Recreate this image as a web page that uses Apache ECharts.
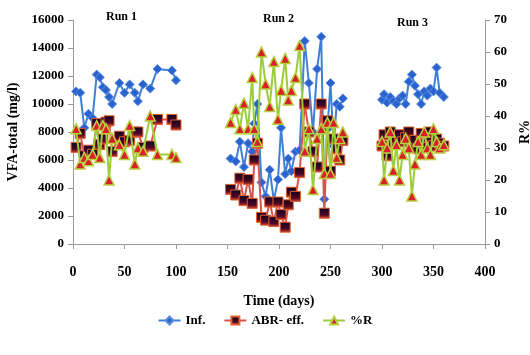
<!DOCTYPE html>
<html><head><meta charset="utf-8">
<script src="https://cdn.jsdelivr.net/npm/echarts@6/dist/echarts.min.js"></script>
<style>html,body{margin:0;padding:0;background:#fff}#c{width:530px;height:355px}</style>
</head><body><div id="c"></div>
<script>
// ---- data ----
const seriesNames = ['Inf.', 'ABR- eff.', '%R'];
const runLabels = ['Run 1', 'Run 2', 'Run 3'];
const xTicks = [0, 50, 100, 150, 200, 250, 300, 350, 400];

const run1Days  = [3, 7, 11, 15, 19, 23, 26, 29, 32, 35, 38, 45, 50, 55, 60, 63, 68, 75, 82, 96, 100];
const run1Inf   = [10900, 10800, 8300, 9300, 9000, 12100, 11900, 11200, 11000, 10500, 10000, 11500, 10800, 11400, 10800, 10200, 11400, 11100, 12500, 12400, 11700];
const run1Eff   = [6900, 7900, 6300, 6700, 6400, 8600, 7100, 7500, 8700, 8800, 6600, 7700, 7300, 7400, 8000, 8000, 6900, 7000, 8900, 8900, 8500];
const run1R     = [36, 25, 27, 26, 28, 37, 27, 37, 36, 20, 33, 31, 28, 37, 25, 30, 29, 40, 28, 28, 27];

const run2Days  = [153, 158, 162, 166, 170, 174, 176, 179, 183, 187, 191, 195, 199, 202, 206, 209, 212, 216, 220, 225, 229, 233, 237, 241, 244, 247, 250, 253, 256, 259, 262];
const run2Inf   = [6100, 5900, 7300, 5500, 7200, 6600, 8600, 10000, 4400, 3400, 5300, 3100, 4600, 8300, 5000, 6100, 5200, 6600, 6700, 14500, 11500, 8000, 12500, 14800, 3200, 8200, 11500, 7000, 10000, 9800, 10400];
const run2Eff   = [3900, 3500, 4700, 3100, 4600, 2900, 6000, 7200, 1900, 1700, 3000, 1600, 3000, 2100, 1200, 2800, 3700, 3400, 5100, 10000, 8000, 6600, 5500, 10000, 2200, 8800, 5200, 7500, 6800, 6000, 7400];
const run2R     = [38, 42, 36, 44, 36, 52, 36, 32, 60, 50, 43, 57, 39, 48, 58, 45, 48, 52, 62, 29, 36, 17, 33, 36, 22, 38, 22, 38, 27, 33, 35];

const run3Days  = [300, 302, 305, 308, 311, 314, 317, 320, 323, 326, 329, 332, 335, 338, 341, 344, 347, 350, 353, 356, 360];
const run3Inf   = [10300, 10700, 10100, 10500, 10200, 10000, 10400, 10600, 10000, 11600, 12100, 11300, 10700, 10000, 10900, 10600, 11100, 10900, 12600, 10800, 10500];
const run3Eff   = [7000, 7800, 6300, 8000, 7200, 7500, 7800, 7300, 7600, 8000, 6900, 7400, 6800, 7900, 7100, 7600, 8000, 7000, 7500, 7200, 7000];
const run3R     = [32, 20, 30, 35, 23, 31, 20, 28, 33, 30, 15, 25, 32, 28, 35, 30, 28, 36, 32, 30, 31];

const runs = [
  {days: run1Days, inf: run1Inf, eff: run1Eff, r: run1R},
  {days: run2Days, inf: run2Inf, eff: run2Eff, r: run2R},
  {days: run3Days, inf: run3Inf, eff: run3Eff, r: run3R}
];

// ---- chart ----
const serif = 'Liberation Serif';
const zip = (a, b) => a.map((v, i) => [v, b[i]]);
const effFill = {type: 'linear', x: 0, y: 0, x2: 0, y2: 1,
  colorStops: [{offset: 0, color: '#10001f'}, {offset: 0.65, color: '#4a0828'}, {offset: 1, color: '#e0402a'}]};

const series = [];
runs.forEach(run => {
  series.push({
    name: seriesNames[0], type: 'line', yAxisIndex: 0, data: zip(run.days, run.inf),
    symbol: 'diamond', symbolSize: 9, z: 2,
    lineStyle: {color: '#3f7fd6', width: 2},
    itemStyle: {color: '#2a62d0', borderColor: '#5a8fe0', borderWidth: 1}
  });
  series.push({
    name: seriesNames[1], type: 'line', yAxisIndex: 0, data: zip(run.days, run.eff),
    symbol: 'rect', symbolSize: 10, z: 3,
    lineStyle: {color: '#d9534a', width: 2},
    itemStyle: {color: effFill, borderColor: '#e0602a', borderWidth: 1}
  });
  series.push({
    name: seriesNames[2], type: 'line', yAxisIndex: 1, data: zip(run.days, run.r),
    symbol: 'triangle', symbolSize: 10, z: 4,
    lineStyle: {color: '#9acd3a', width: 2},
    itemStyle: {color: '#d8202a', borderColor: '#b8d040', borderWidth: 1.5}
  });
});

const axisLbl = {fontFamily: serif, fontWeight: 'bold', fontSize: 13, color: '#000'};
const axisLine = {show: true, lineStyle: {color: '#9a9a9a'}};
const plain = v => String(v);

const chart = echarts.init(document.getElementById('c'), null, {renderer: 'canvas'});
chart.setOption({
  backgroundColor: '#fff',
  animation: false,
  grid: {left: 73, right: 45, top: 20, bottom: 111, containLabel: false, outerBoundsMode: 'none'},
  legend: {
    data: seriesNames, top: 309, left: 'center', itemGap: 18, itemWidth: 22, itemHeight: 10,
    textStyle: {fontFamily: serif, fontWeight: 'bold', fontSize: 13, color: '#000'}
  },
  xAxis: {
    type: 'value', min: xTicks[0], max: xTicks[xTicks.length - 1], interval: 50,
    name: 'Time (days)', nameLocation: 'middle', nameGap: 50,
    nameTextStyle: {fontFamily: serif, fontWeight: 'bold', fontSize: 14, color: '#000'},
    axisLine: axisLine, axisTick: {show: true, lineStyle: {color: '#9a9a9a'}},
    axisLabel: Object.assign({margin: 21, formatter: plain}, axisLbl, {fontSize: 14}), splitLine: {show: false}
  },
  yAxis: [{
    type: 'value', min: 0, max: 16000, interval: 2000,
    name: 'VFA-total (mg/l)', nameLocation: 'middle', nameGap: 49, nameRotate: 90,
    nameTextStyle: {fontFamily: serif, fontWeight: 'bold', fontSize: 14, color: '#000'},
    axisLine: axisLine, axisTick: {show: true, lineStyle: {color: '#9a9a9a'}},
    axisLabel: Object.assign({margin: 9, formatter: plain}, axisLbl), splitLine: {show: false}
  }, {
    type: 'value', min: 0, max: 70, interval: 10, position: 'right',
    name: 'R%', nameLocation: 'middle', nameGap: 30, nameRotate: 90,
    nameTextStyle: {fontFamily: serif, fontWeight: 'bold', fontSize: 14, color: '#000'},
    axisLine: axisLine, axisTick: {show: true, lineStyle: {color: '#9a9a9a'}},
    axisLabel: Object.assign({margin: 9, formatter: plain}, axisLbl), splitLine: {show: false}
  }],
  graphic: [
    {type: 'text', left: 106, top: 11, style: {text: runLabels[0], font: 'bold 12px "Liberation Serif"', fill: '#000'}},
    {type: 'text', left: 263, top: 13, style: {text: runLabels[1], font: 'bold 12px "Liberation Serif"', fill: '#000'}},
    {type: 'text', left: 397, top: 17, style: {text: runLabels[2], font: 'bold 12px "Liberation Serif"', fill: '#000'}}
  ],
  series: series
});
</script>
</body></html>
